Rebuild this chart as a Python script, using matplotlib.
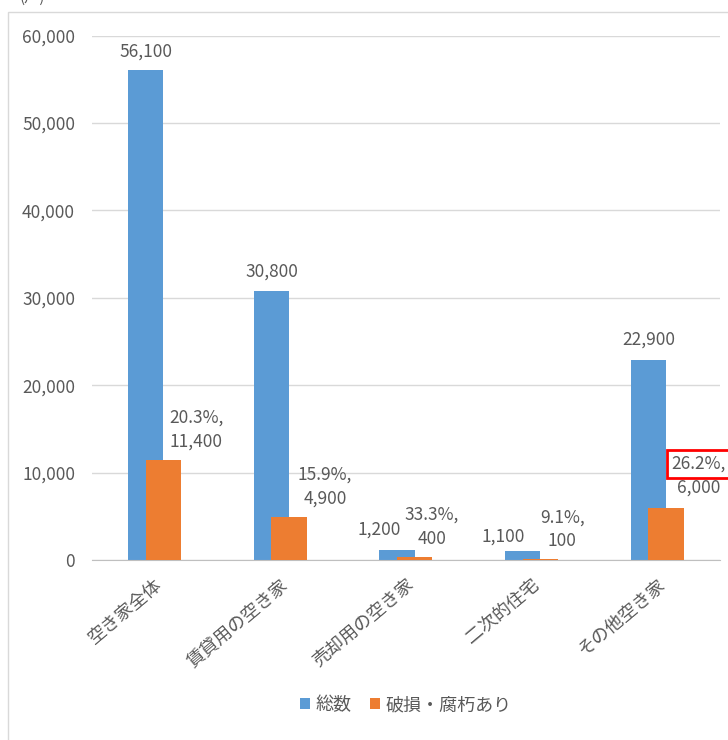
import matplotlib
matplotlib.use('Agg')
import matplotlib.pyplot as plt
from matplotlib.patches import Rectangle
from matplotlib.ticker import FuncFormatter
import numpy as np

plt.rcParams['font.family'] = ['Noto Sans CJK JP', 'DejaVu Sans']

# Vacant houses by type (units: 戸)
categories = ['空き家全体', '賃貸用の空き家', '売却用の空き家', '二次的住宅', 'その他空き家']
total = [56100, 30800, 1200, 1100, 22900]
damaged = [11400, 4900, 400, 100, 6000]
damaged_pct = [20.3, 15.9, 33.3, 9.1, 26.2]
highlight = 4

# Label offsets in pixels from the top of each bar (dx, dy)
total_label_off = [(0, 18), (0, 19), (-18, 20), (-20, 14), (0, 20)]
damaged_label_off = [(33, 31), (36, 31), (17, 30), (22, 30), (33, 32)]

BLUE = '#5B9BD5'
ORANGE = '#ED7D31'
GRAY = '#595959'
FS = 12.5

fig = plt.figure(figsize=(7.28, 7.4), dpi=100)
ax = fig.add_axes([0.126, 0.243, 0.863, 0.709])

x = np.arange(len(categories))
w = 0.28
ax.bar(x - 0.07, total, w, color=BLUE, label='総数', zorder=2)
ax.bar(x + 0.07, damaged, w, color=ORANGE, label='破損・腐朽あり', zorder=3)

for i in range(len(categories)):
    dx, dy = total_label_off[i]
    ax.annotate(f'{total[i]:,}', (x[i] - 0.07, total[i]), xytext=(dx, dy),
                textcoords='offset pixels', ha='center', va='center',
                fontsize=FS, color=GRAY)
    dx, dy = damaged_label_off[i]
    box = None
    if i == highlight:
        box = dict(boxstyle='square,pad=0.3', fc='white', ec='#FF0000', lw=2)
    ax.annotate(f'{damaged_pct[i]}%,', (x[i] + 0.07, damaged[i]), xytext=(dx, dy + 12),
                textcoords='offset pixels', ha='center', va='center',
                fontsize=FS, color=GRAY, bbox=box, zorder=5)
    ax.annotate(f'{damaged[i]:,}', (x[i] + 0.07, damaged[i]), xytext=(dx, dy - 12),
                textcoords='offset pixels', ha='center', va='center',
                fontsize=FS, color=GRAY, zorder=5)

ax.set_xlim(-0.5, len(categories) - 0.5)
ax.set_ylim(0, 60000)
ax.set_yticks(np.arange(0, 60001, 10000))
ax.yaxis.set_major_formatter(FuncFormatter(lambda v, p: f'{int(v):,}'))
ax.grid(axis='y', color='#d9d9d9', lw=1, zorder=0)
ax.set_axisbelow(True)
for s in ['top', 'right', 'left']:
    ax.spines[s].set_visible(False)
ax.spines['bottom'].set_color('#bfbfbf')
ax.tick_params(length=0, colors=GRAY, labelsize=FS, pad=12)
ax.tick_params(axis='x', pad=11)
ax.set_xticks(x)
ax.set_xticklabels(categories, rotation=40, ha='right', va='top',
                   rotation_mode='anchor', fontsize=13, color=GRAY)

ax.legend(loc='center', bbox_to_anchor=(0.5, -0.276), ncol=2, frameon=False,
          fontsize=13, labelcolor=GRAY, handlelength=0.55, handleheight=0.55,
          handletextpad=0.3, columnspacing=1.0)

# outer chart frame and unit label
fig.patches.append(Rectangle((8 / 728, -0.01), 0.99, 1 - 12 / 740 + 0.01,
                             transform=fig.transFigure, fill=False,
                             ec='#d9d9d9', lw=1))
fig.text(20 / 728, 1.004, '(戸)', fontsize=11, color=GRAY, va='center')

fig.savefig('out.png', dpi=100)
